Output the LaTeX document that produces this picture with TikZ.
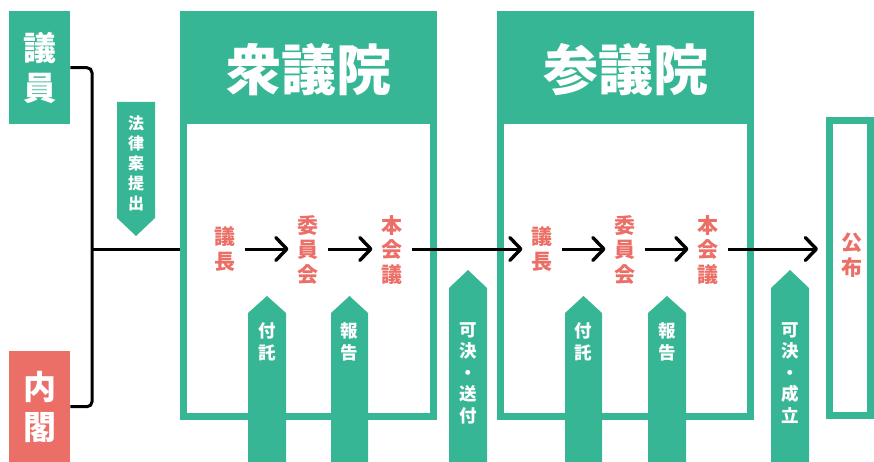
\documentclass[tikz,border=0pt]{standalone}
\usepackage{fontspec}
\newfontfamily\jp{Noto Sans CJK JP}
\usetikzlibrary{arrows.meta}
\definecolor{grn}{HTML}{37B696}
\definecolor{rd}{HTML}{EC6F67}
\newcommand\fs[2]{\fontsize{#1}{#2}\selectfont}
\begin{document}
\begin{tikzpicture}[x=1pt,y=-1pt,
  every node/.style={font=\jp\bfseries},
  house/.style={draw=grn,line width=7pt,minimum width=250pt,minimum height=402pt,inner sep=0pt},
  header/.style={fill=grn,minimum width=257pt,minimum height=113pt,anchor=north west,inner sep=0pt},
  title/.style={text=white,font=\jp\bfseries\fs{55}{58}},
  side/.style={minimum width=61pt,inner sep=0pt,text=white,align=center,font=\jp\bfseries\fs{33}{40}},
  flowtxt/.style={text=rd,align=center,inner sep=0pt,outer sep=9pt,font=\jp\bfseries\fs{21}{24.5}},
  arrtxt/.style={text=white,align=center,inner sep=0pt,font=\jp\bfseries\fs{17.5}{21.5}},
  flow/.style={draw=black,line width=3pt,-{Straight Barb[length=11pt,width=23pt,line width=3.4pt,round]}},
  bracket/.style={draw=black,line width=3pt,rounded corners=5pt},
  uparr/.style={fill=grn},
]
\useasboundingbox (0,0) rectangle (874,462);
% left boxes
\node[side,fill=grn,minimum height=113pt,anchor=north west] (giin) at (9,11) {議\\員};
\node[side,fill=rd,minimum height=111pt,anchor=north west] (naikaku) at (9,351) {内\\閣};
% houses
\node[house] (shu) at (308.5,215.5) {};
\node[header] (shuh) at (180,11) {};
\node[title] (shut) at (308.5,70) {衆議院};
\node[house] (san) at (625.5,215.5) {};
\node[header] (sanh) at (497,11) {};
\node[title] (sant) at (625.5,70) {参議院};
% koufu box
\node[draw=grn,line width=7pt,minimum width=41pt,minimum height=295pt,inner sep=0pt] (kofubox) at (850,268) {};
\node[text=rd,align=center,inner sep=0pt,font=\jp\bfseries\fs{21}{24.5}] (kofu) at (852,255) {公\\布};
% bracket
\coordinate (bj) at (92,249);
\draw[bracket] (giin.east) -| (bj) |- (naikaku.east);
\draw[line width=3pt] (bj) -- (shu.west |- bj);
% proposal arrow
\fill[uparr] (117,102) -- (155,102) -- (155,218) -- (136,236) -- (117,218) -- cycle;
\node[arrtxt,font=\jp\bfseries\fs{16}{20}] (teishutsu) at (136,163) {法\\律\\案\\提\\出};
% up arrows
\newcommand\greenup[4]{\fill[uparr] (#1,463) -- (#1,#4) -- ({(#1+#2)/2},#3) -- (#2,#4) -- (#2,463) -- cycle;}
\greenup{248}{286}{296}{313}
\greenup{331}{368}{296}{313}
\greenup{449}{487}{270}{288}
\greenup{565}{602}{296}{313}
\greenup{648}{686}{296}{313}
\greenup{771}{809}{270}{288}
\node[arrtxt] (futaku1) at (267,342) {付\\託};
\node[arrtxt] (hokoku1) at (349.5,342) {報\\告};
\node[arrtxt] (sofu) at (468,373) {可\\決\\・\\送\\付};
\node[arrtxt] (futaku2) at (583.5,342) {付\\託};
\node[arrtxt] (hokoku2) at (667,342) {報\\告};
\node[arrtxt] (seiritsu) at (790,373) {可\\決\\・\\成\\立};
% flow texts
\node[flowtxt] (gicho1) at (225,249) {議\\長};
\node[flowtxt] (iin1) at (308,250) {委\\員\\会};
\node[flowtxt] (hon1) at (392,250) {本\\会\\議};
\node[flowtxt] (gicho2) at (542,249) {議\\長};
\node[flowtxt] (iin2) at (625,250) {委\\員\\会};
\node[flowtxt] (hon2) at (708,250) {本\\会\\議};
\draw[flow] (gicho1.east |- 0,249) -- (iin1.west |- 0,249);
\draw[flow] (iin1.east |- 0,249) -- (hon1.west |- 0,249);
\draw[flow] (hon1.east |- 0,249) -- (gicho2.west |- 0,249);
\draw[flow] (gicho2.east |- 0,249) -- (iin2.west |- 0,249);
\draw[flow] (iin2.east |- 0,249) -- (hon2.west |- 0,249);
\draw[flow,shorten >=8pt] (hon2.east |- 0,249) -- (kofubox.west |- 0,249);
\end{tikzpicture}
\end{document}
